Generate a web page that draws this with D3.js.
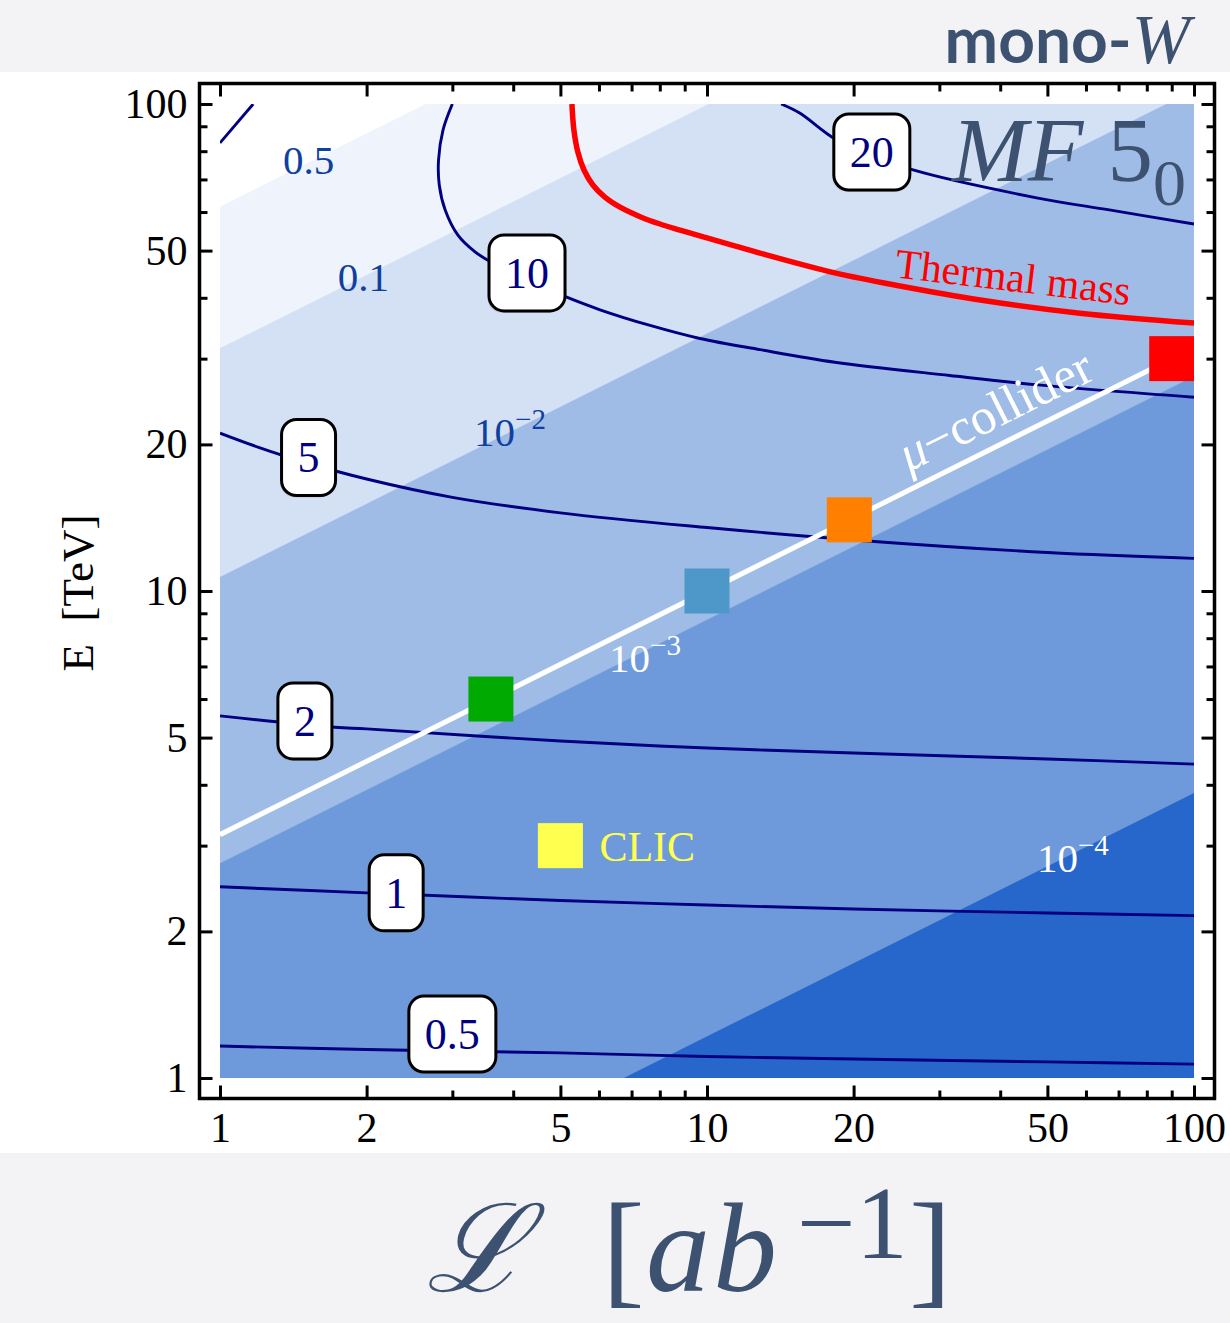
<!DOCTYPE html>
<html><head><meta charset="utf-8">
<script src="https://cdn.jsdelivr.net/npm/d3@7"></script>
<style>
html,body{margin:0;padding:0;background:#fff;}
svg{display:block;}
</style></head><body>
<svg id="chart" width="1230" height="1323"></svg>
<script>
// ---- axes (both logarithmic): luminosity in ab^-1, energy in TeV ----
const xDomain = [1, 100];
const yDomain = [1, 100];
const majorTicks = [1, 2, 5, 10, 20, 50, 100];
const minorTicks = [3, 4, 6, 7, 8, 9, 30, 40, 60, 70, 80, 90];

// ---- shaded bands: straight boundaries in log-log, E at L=1 and L=100 ----
const bandEAtL1   = [61.5, 31.5, 10.68, 2.76, 0.385];
const bandEAtL100 = [615, 315, 106.8, 27.6, 3.85];
const bandColors  = ["#eff3fb", "#d4e1f4", "#9fbce7", "#6e9adc", "#2766cb"];
const bandLabelBase = ["0.5", "0.1", "10", "10", "10"];
const bandLabelExp  = ["", "", "\u22122", "\u22123", "\u22124"];
const bandLabelPos  = [[1.52, 76.7], [1.97, 44.1], [3.94, 21.2], [7.46, 7.3], [56.4, 2.83]];
const bandLabelColors = ["#10409e", "#10409e", "#10409e", "#ffffff", "#ffffff"];

// ---- mass-reach contours [L, E] ----
const curve05 = [[1,1.163],[2,1.144],[5,1.126],[10,1.107],[20,1.094],[50,1.079],[100,1.068]];
const curve1  = [[1,2.47],[2,2.40],[5,2.314],[10,2.266],[20,2.223],[50,2.182],[100,2.155]];
const curve2  = [[1,5.54],[1.72,5.25],[2,5.21],[5,4.92],[10,4.76],[20,4.65],[50,4.52],[100,4.41]];
const curve5  = [[1,21.1],[1.2,19.73],[1.5,18.36],[2,16.98],[3,15.57],[5,14.47],[10,13.5],[20,12.73],[50,12.0],[100,11.67]];
const curve5upper = [[1,83.2],[1.17,100]];
const curve10 = [[3.0,100],[2.87,88.4],[2.81,76.7],[2.82,68.2],[2.9,60.6],[3.08,53.8],[3.34,49.7],[3.57,47.6],[4.27,43.5],[5.06,40.4],[6.03,37.8],[7.64,35.1],[9.67,33.0],[12.85,31.3],[18.3,29.5],[31.5,27.7],[47.8,26.5],[100,25.0]];
const curve20 = [[14.2,100],[15.5,95.8],[18.3,84.8],[21.8,78.6],[26.5,73.2],[47.8,64.1],[67,60.6],[100,56.7]];
const contourCurves = [curve05, curve1, curve2, curve5, curve5upper, curve10, curve20];
const contourLabels = ["0.5", "1", "2", "5", "10", "20"];
const contourLabelPos = [[3.0,1.231],[2.30,2.40],[1.494,5.41],[1.52,18.8],[4.27,45.0],[21.8,79.7]];

// ---- thermal mass curve [L, E] ----
const thermalCurve = [[5.28,100],[5.33,88.4],[5.43,79.7],[5.59,73.2],[5.83,68.2],[6.17,64.4],[6.63,61.4],[7.29,58.7],[8.01,56.7],[8.8,55.1],[9.67,53.6],[12.85,49.4],[18.3,45.0],[24.9,42.3],[36.4,39.6],[58.3,37.2],[100,35.5]];

// ---- muon collider line and benchmark points ----
const muLineL = [1, 100];
const muLineE = [3.16, 31.6];
const muPointsL = [3.6, 10, 19.6, 90];
const muPointsE = [6, 10, 14, 30];
const muPointColors = ["#00aa00", "#4d98c9", "#ff7f00", "#ff0000"];
const clicL = 5, clicE = 3;
const clicColor = "#ffff50";

const W = 1230, H = 1323;
const serif = "'Liberation Serif','Times New Roman',serif";
const ink = "#3d5170";
const svg = d3.select("#chart");

const x = d3.scaleLog().domain(xDomain).range([220, 1194]);
const y = d3.scaleLog().domain(yDomain).range([1078, 104]);
const pad = 20.5;
const toPx = d3.line().x(d => x(d[0])).y(d => y(d[1]));

// page background strips
svg.append("rect").attr("width", W).attr("height", H).attr("fill", "#fff");
svg.append("rect").attr("width", W).attr("height", 72).attr("fill", "#f3f3f6");
svg.append("rect").attr("y", 1153).attr("width", W).attr("height", H - 1153).attr("fill", "#f3f3f6");

const defs = svg.append("defs");
defs.append("clipPath").attr("id", "plotClip").append("rect")
  .attr("x", x(1)).attr("y", y(100))
  .attr("width", x(100) - x(1)).attr("height", y(1) - y(100));

const plot = svg.append("g").attr("clip-path", "url(#plotClip)");

// bands, lightest first, each one filling everything below its boundary
bandEAtL1.forEach((e1, i) => {
  const pts = [[1, 0.5], [1, e1], [100, bandEAtL100[i]], [100, 0.5]];
  plot.append("path").attr("d", toPx(pts) + "Z").attr("fill", bandColors[i]);
});

// mass-reach contours
const smooth = d3.line().x(d => x(d[0])).y(d => y(d[1])).curve(d3.curveCatmullRom.alpha(0.5));
contourCurves.forEach(c => {
  plot.append("path").attr("d", smooth(c)).attr("fill", "none")
    .attr("stroke", "#000080").attr("stroke-width", 2.9);
});

// thermal mass
plot.append("path").attr("d", smooth(thermalCurve)).attr("fill", "none")
  .attr("stroke", "#ff0000").attr("stroke-width", 5.5);

// muon collider line
plot.append("path").attr("d", toPx(muLineL.map((l, i) => [l, muLineE[i]])))
  .attr("stroke", "#ffffff").attr("stroke-width", 5).attr("fill", "none");

// band level labels
bandLabelBase.forEach((b, i) => {
  const t = svg.append("text")
    .attr("x", x(bandLabelPos[i][0])).attr("y", y(bandLabelPos[i][1]) + 14)
    .attr("text-anchor", "middle").attr("font-family", serif).attr("font-size", 41)
    .attr("fill", bandLabelColors[i]);
  t.append("tspan").text(b);
  if (bandLabelExp[i]) t.append("tspan").attr("font-size", 29).attr("dy", -17).text(bandLabelExp[i]);
});

// benchmark squares
const sq = 45;
plot.selectAll("rect.mu").data(muPointsL).join("rect").attr("class", "mu")
  .attr("x", (d) => x(d) - sq / 2).attr("y", (d, i) => y(muPointsE[i]) - sq / 2)
  .attr("width", sq).attr("height", sq).attr("fill", (d, i) => muPointColors[i]);
plot.append("rect").attr("x", x(clicL) - sq / 2).attr("y", y(clicE) - sq / 2)
  .attr("width", sq).attr("height", sq).attr("fill", clicColor);
svg.append("text").attr("x", x(clicL) + 39).attr("y", y(clicE) + 15)
  .attr("font-family", serif).attr("font-size", 42).attr("fill", clicColor).text("CLIC");

// muon collider label along its line
{
  const p0 = [x(muLineL[0]), y(muLineE[0])], p1 = [x(muLineL[1]), y(muLineE[1])];
  const ang = Math.atan2(p1[1] - p0[1], p1[0] - p0[0]) * 180 / Math.PI;
  const t = (916 - p0[0]) / (p1[0] - p0[0]);
  const ax = p0[0] + t * (p1[0] - p0[0]), ay = p0[1] + t * (p1[1] - p0[1]);
  const lab = svg.append("text").attr("transform", `translate(${ax},${ay}) rotate(${ang})`)
    .attr("y", -16).attr("font-family", serif).attr("font-size", 51).attr("fill", "#fff");
  lab.append("tspan").attr("font-style", "italic").text("\u03bc");
  lab.append("tspan").text("\u2212collider");
}

// thermal mass label
svg.append("text").attr("transform", `translate(${x(24.2)},${y(44.1)}) rotate(6.8)`)
  .attr("font-family", serif).attr("font-size", 42).attr("fill", "#ff0000").text("Thermal mass");

// contour value boxes
contourLabels.forEach((lab, i) => {
  const cx = x(contourLabelPos[i][0]), cy = y(contourLabelPos[i][1]);
  const g = svg.append("g");
  const txt = g.append("text").attr("x", cx).attr("y", cy + 15).attr("text-anchor", "middle")
    .attr("font-family", serif).attr("font-size", 44).attr("fill", "#000080").text(lab);
  const w = txt.node().getComputedTextLength() + 32, h = 76;
  g.insert("rect", "text").attr("x", cx - w / 2 - 1.5).attr("y", cy - h / 2 + 2)
    .attr("width", w).attr("height", h).attr("rx", 15).attr("fill", "#888").attr("opacity", 0.35);
  g.insert("rect", "text").attr("x", cx - w / 2).attr("y", cy - h / 2)
    .attr("width", w).attr("height", h).attr("rx", 15)
    .attr("fill", "#fff").attr("stroke", "#000").attr("stroke-width", 3);
});

// model name
{
  const t = svg.append("text").attr("x", 952).attr("y", 181)
    .attr("font-family", serif).attr("font-size", 91).attr("fill", ink);
  t.append("tspan").attr("font-style", "italic").text("MF");
  t.append("tspan").attr("dx", 24).text("5");
  t.append("tspan").attr("font-size", 66).attr("dy", 24).text("0");
}

// frame
const fx0 = x(1) - pad, fx1 = x(100) + pad, fy0 = y(100) - pad, fy1 = y(1) + pad;
svg.append("rect").attr("x", fx0).attr("y", fy0).attr("width", fx1 - fx0).attr("height", fy1 - fy0)
  .attr("fill", "none").attr("stroke", "#000").attr("stroke-width", 3.5);

function axis(gen, tx, ty, ticks, size, withLabels, padding) {
  const a = gen.tickValues(ticks).tickSize(-size).tickPadding(padding || 0)
    .tickFormat(withLabels ? d3.format("d") : () => "");
  const g = svg.append("g").attr("transform", `translate(${tx},${ty})`).call(a);
  g.select(".domain").remove();
  g.selectAll("line").attr("stroke", "#000").attr("stroke-width", 3);
  g.selectAll("text").attr("font-family", serif).attr("font-size", 42).attr("fill", "#000");
  return g;
}
axis(d3.axisLeft(y), fx0, 0, majorTicks, 13, true, 12);
axis(d3.axisLeft(y), fx0, 0, minorTicks, 8, false);
axis(d3.axisRight(y), fx1, 0, majorTicks, 13, false);
axis(d3.axisRight(y), fx1, 0, minorTicks, 8, false);
axis(d3.axisBottom(x), 0, fy1, majorTicks, 13, true, 14);
axis(d3.axisBottom(x), 0, fy1, minorTicks, 8, false);
axis(d3.axisTop(x), 0, fy0, majorTicks, 13, false);
axis(d3.axisTop(x), 0, fy0, minorTicks, 8, false);

// axis titles
svg.append("text").attr("transform", "translate(78,593) rotate(-90)")
  .attr("text-anchor", "middle").attr("dominant-baseline", "central")
  .attr("font-family", serif).attr("font-size", 45).attr("fill", "#000")
  .style("white-space", "pre").text("E  [TeV]");

{
  const t = svg.append("text").attr("y", 1291)
    .attr("font-family", serif).attr("font-size", 128).attr("fill", ink);
  t.append("tspan").attr("x", 426).attr("font-family", "'DejaVu Serif',serif").attr("font-style", "italic").attr("font-size", 122).text("\u2112");
  t.append("tspan").attr("x", 602).text("[");
  t.append("tspan").attr("x", 646).attr("font-style", "italic").attr("letter-spacing", 3).text("ab");
  t.append("tspan").attr("x", 797).attr("y", 1258).attr("font-size", 104).text("\u22121");
  t.append("tspan").attr("x", 909).attr("y", 1291).text("]");
}

// title
{
  const t = svg.append("text").attr("x", 1190).attr("y", 63).attr("text-anchor", "end").attr("fill", ink);
  t.append("tspan").attr("font-family", "Lato").attr("font-weight", 700).attr("font-size", 64).text("mono-");
  t.append("tspan").attr("font-family", serif).attr("font-style", "italic").attr("font-size", 70).text("W");
}
</script>
</body></html>
